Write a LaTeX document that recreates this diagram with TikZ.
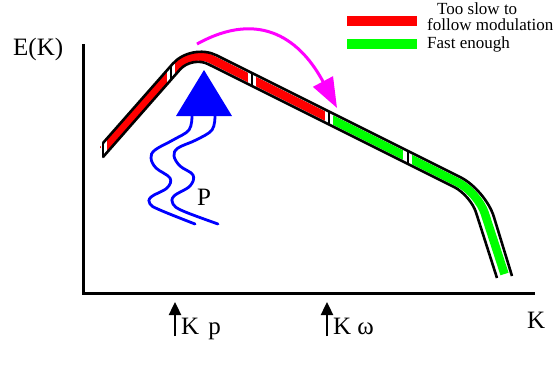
\documentclass[tikz,border=0pt]{standalone}
\usepackage{fontspec}
\setmainfont{Liberation Serif}
\usetikzlibrary{arrows.meta}
\definecolor{myred}{RGB}{255,0,0}
\definecolor{mygreen}{RGB}{0,255,0}
\definecolor{myblue}{RGB}{0,0,255}
\definecolor{mymag}{RGB}{255,0,255}
\begin{document}
\begin{tikzpicture}[x=1pt,y=-1pt,
  border/.style={line width=2.6pt},
  seg/.style={line width=8.5pt, rounded corners=22pt},
  tickline/.style={line width=2.2pt},
  gapbar/.style={fill=white},
  wave/.style={myblue, line width=2.8pt, line cap=round},
  big/.style={inner sep=0pt, anchor=base west, font=\fontsize{25}{30}\selectfont},
  leg/.style={inner sep=0pt, anchor=base west, font=\fontsize{17}{14}\selectfont},
  kar/.style={line width=2.4pt, -{Triangle[length=13pt,width=12pt]}}]
\useasboundingbox (0,0) rectangle (558,365);
% axes
\draw[line width=3pt] (83,44) -- (83,293) -- (535,293);
% coloured segments
\begin{scope}
  \clip (100,0) rectangle (329,365);
  \draw[seg, myred] (103,150) -- (191.6,49.3) -- (478,192.5) -- (504.5,274);
\end{scope}
\begin{scope}
  \clip (329,0) rectangle (558,365);
  \draw[seg, mygreen] (103,150) -- (191.6,49.3) -- (478,192.5) -- (504.5,274);
\end{scope}
% white gaps
\fill[gapbar] (101,140) rectangle (107,160);
\fill[gapbar] (167,64) rectangle (175,82);
\fill[gapbar] (248,71) rectangle (256,88);
\fill[gapbar] (325,109) rectangle (333,127);
\fill[gapbar] (403,148) rectangle (412,167);
% borders
\draw[border, rounded corners=28pt] (103,143) -- (191.3,42.7) -- (485.6,189.8) -- (512,276);
\draw[border, rounded corners=18pt] (103,157) -- (191.9,56) -- (470.5,195.2) -- (497,278);
\draw[border, line cap=round] (103,143) -- (103,157);
% ticks
\draw[tickline] (171,66) -- (171,80);
\draw[tickline] (252,73) -- (252,86);
\draw[tickline] (329,111.5) -- (329,124.5);
\draw[tickline] (408,151) -- (408,164);
% magenta arrow
\draw[mymag, line width=3pt, -{Triangle[length=30pt,width=22pt]}]
  (197,44) .. controls (262,8) and (302,42) .. (337,108);
% pump triangle
\fill[myblue] (204,70) -- (232,116) -- (176,116) -- cycle;
% wavy lines
\draw[wave] plot[smooth, tension=0.6] coordinates {(192,116) (189,130) (173,140) (155,150) (151,158) (156,168) (170,178) (167,188) (151,197) (150,204) (160,210) (195,224)};
\draw[wave] plot[smooth, tension=0.6] coordinates {(215,116) (212,130) (196,140) (178,148) (174,156) (180,166) (193,175) (190,186) (174,196) (173,204) (183,211) (218,224)};
% labels
\node[big] (lp) at (197,205) {P};
\node[big] (ek) at (13,55) {E(K)};
\node[big] (kx) at (527,328) {K};
\node[big] (kp) at (181,334) {K\hspace{9pt}p};
\node[big] (kw) at (333,334) {K\hspace{6pt}ω};
\draw[kar] (175,336) -- (175,302);
\draw[kar] (327,336) -- (327,302);
% legend
\fill[myred] (347,16) rectangle (417,26);
\fill[mygreen] (347,39) rectangle (417,49);
\node[leg] (l1) at (437,14) {Too slow to};
\node[leg] (l2) at (427,30) {follow modulation};
\node[leg] (l3) at (427,48) {Fast enough};
\end{tikzpicture}
\end{document}
